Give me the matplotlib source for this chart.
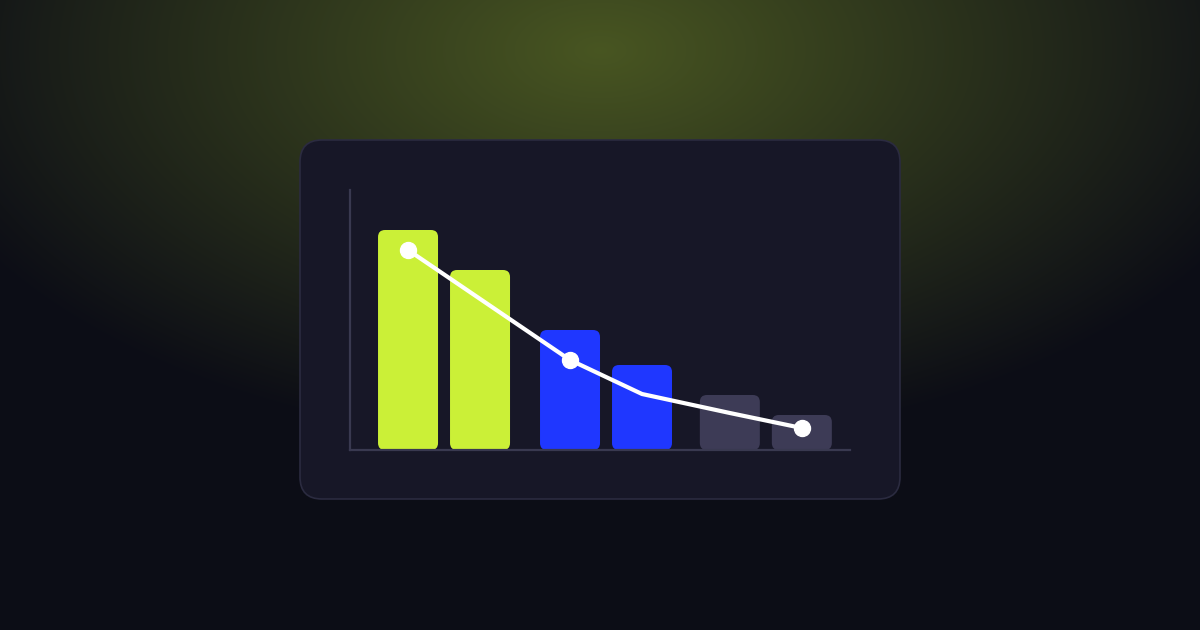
import matplotlib
matplotlib.use("Agg")
import matplotlib.pyplot as plt
from matplotlib.patches import FancyBboxPatch
import numpy as np

# bar data (values on a 0-130 scale)
bar_pos = [0, 1, 2.25, 3.25, 4.47, 5.47]
bar_vals = [110, 90, 60, 42.5, 27.5, 17.5]
bar_colors = ["#cbf037", "#cbf037", "#1f37ff", "#1f37ff", "#3d3b56", "#3d3b56"]

# trend line over the bars
line_x = [0, 2.25, 3.25, 4.47, 5.47]
line_y = [100, 45, 28, 18.5, 11]
marker_idx = [0, 1, 4]

W, H = 1200, 630
fig = plt.figure(figsize=(W / 100, H / 100), dpi=100)

# background with a lime glow at the top
bg = fig.add_axes([0, 0, 1, 1])
bg.set_xlim(0, W)
bg.set_ylim(H, 0)
bg.axis("off")
yy, xx = np.mgrid[0:H, 0:W]
r = np.sqrt(((xx - 600) / 720.0) ** 2 + ((yy - 50) / 400.0) ** 2)
a = 0.32 * np.clip(1 - r, 0, 1)
base = np.array([12, 13, 22]) / 255.0
glow = np.array([200, 240, 58]) / 255.0
img = base[None, None, :] * (1 - a[..., None]) + glow[None, None, :] * a[..., None]
bg.imshow(img, extent=(0, W, H, 0), aspect="auto", interpolation="bilinear")

card = FancyBboxPatch((300, 140), 600, 359,
                      boxstyle="round,pad=0,rounding_size=22",
                      fc="#171727", ec="#2b2b40", lw=1.2)
bg.add_patch(card)

# chart area
ax = fig.add_axes([350 / W, (H - 450) / H, 500 / W, 260 / H])
ax.set_facecolor("none")
xlo, xhi = -0.806, 6.139
ylo, yhi = 0, 130
ax.set_xlim(xlo, xhi)
ax.set_ylim(ylo, yhi)
for s in ["top", "right"]:
    ax.spines[s].set_visible(False)
for s in ["left", "bottom"]:
    ax.spines[s].set_color("#393950")
    ax.spines[s].set_linewidth(1.6)
ax.set_xticks([])
ax.set_yticks([])

# keep corners round in pixel space
x_per_px = (xhi - xlo) / 500
y_per_px = (yhi - ylo) / 260
aspect = y_per_px / x_per_px
bw = 60 * x_per_px
rad = 7 * x_per_px
for x, v, c in zip(bar_pos, bar_vals, bar_colors):
    p = FancyBboxPatch((x - bw / 2, 0), bw, v,
                       boxstyle=f"round,pad=0,rounding_size={rad}",
                       mutation_aspect=aspect, fc=c, ec="none", zorder=2)
    ax.add_patch(p)

ax.plot(line_x, line_y, color="white", lw=3.0, solid_joinstyle="round",
        solid_capstyle="round", marker="o", markersize=11.5,
        markevery=marker_idx, markerfacecolor="white",
        markeredgecolor="white", zorder=3, clip_on=False)

fig.savefig("out.png", dpi=100)
